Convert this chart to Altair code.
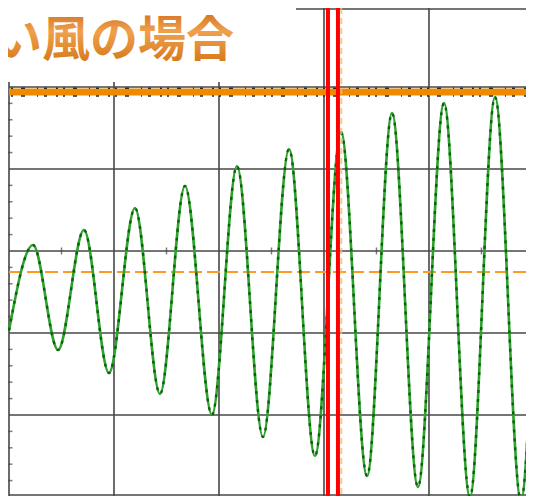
import altair as alt
import pandas as pd

# ---- values (x: divisions from left, y: divisions from centre) ----
trace_x = [0.0, 0.229, 0.467, 0.714, 0.952, 1.200, 1.438, 1.676, 1.933, 2.171, 2.419,
           2.667, 2.914, 3.162, 3.410, 3.648, 3.895, 4.143, 4.390, 4.629, 4.876, 5.0]
trace_y = [-0.97, 0.073, -1.207, 0.256, -1.488, 0.524, -1.744, 0.793, -2.0, 1.037, -2.268,
           1.244, -2.5, 1.451, -2.744, 1.683, -2.878, 1.805, -3.0, 1.878, -3.037, -0.55]

grid_x = [0, 1, 2, 3, 4, 5]
grid_y = [-3, -2, -1, 0, 1, 2, 3]
frame_y = [2.95, -2.975]
minor_y = [-2.8, -2.6, -2.4, -2.2, -1.8, -1.6, -1.4, -1.2, -0.8, -0.6, -0.4, -0.2,
           0.2, 0.4, 0.6, 0.8, 1.2, 1.4, 1.6, 1.8, 2.2, 2.4, 2.6, 2.8]
centre_ticks_x = [0.5, 1.5, 2.5, 3.5, 4.5]

trigger_level = [-0.256]
top_level = [1.939]
speck_levels = [1.985, 1.89]
cursor_x = [3.038, 3.133]
cursor_ghost_x = [3.165]

title_text = ["い風の場合"]

GRID = "#474747"
X = alt.Scale(domain=[0, 4.924], nice=False, zero=False, padding=0)
Y = alt.Scale(domain=[-2.988, 2.963], nice=False, zero=False, padding=0)


def xq():
    return alt.X("x:Q", scale=X, axis=None)


def yq():
    return alt.Y("y:Q", scale=Y, axis=None)


trace = pd.DataFrame({"x": trace_x, "y": trace_y})

vgrid = alt.Chart(pd.DataFrame({"x": grid_x})).mark_rule(color=GRID, strokeWidth=1.6).encode(
    x=xq(), y=alt.value(-10), y2=alt.value(500))
hgrid = alt.Chart(pd.DataFrame({"y": grid_y + frame_y})).mark_rule(color=GRID, strokeWidth=1.6).encode(y=yq())

left_ticks = alt.Chart(pd.DataFrame({"y": minor_y, "x": [0] * len(minor_y)})).mark_tick(
    orient="horizontal", size=7, thickness=1.5, color=GRID).encode(x=xq(), y=yq())
centre_ticks = alt.Chart(pd.DataFrame({"x": centre_ticks_x, "y": [0] * len(centre_ticks_x)})).mark_tick(
    orient="vertical", size=7, thickness=1.5, color=GRID).encode(x=xq(), y=yq())

trigger = alt.Chart(pd.DataFrame({"y": trigger_level})).mark_rule(
    color="#FF9A22", strokeWidth=2, strokeDash=[13, 5]).encode(y=yq())

green = alt.Chart(trace).mark_line(color="#2AA52A", strokeWidth=2.6, interpolate="monotone").encode(
    x=xq(), y=yq())
dark = alt.Chart(trace).mark_line(color="#0E4E0E", strokeWidth=2.4, strokeDash=[3, 6],
                                  interpolate="monotone", opacity=0.85).encode(x=xq(), y=yq())

top = alt.Chart(pd.DataFrame({"y": top_level})).mark_rule(
    color="#EE8A00", strokeWidth=7).encode(y=yq())
specks = alt.Chart(pd.DataFrame({"y": speck_levels})).mark_rule(
    color="#2a2a2a", strokeWidth=1.6, strokeDash=[2, 9, 3, 6, 1, 12, 4, 8, 2, 5]).encode(y=yq())

ghost = alt.Chart(pd.DataFrame({"x": cursor_ghost_x})).mark_rule(
    color="#FFB870", strokeWidth=2, strokeDash=[6, 4], opacity=0.8).encode(
    x=xq(), y=alt.value(-10), y2=alt.value(500))
cursors = alt.Chart(pd.DataFrame({"x": cursor_x})).mark_rule(
    color="#FF0000", strokeWidth=4).encode(x=xq(), y=alt.value(-10), y2=alt.value(500))

tdf = pd.DataFrame({"t": title_text})
white = alt.Chart(tdf).mark_rect(color="white").encode(
    x=alt.value(-9), x2=alt.value(287), y=alt.value(-8), y2=alt.value(74))
title = alt.Chart(tdf).mark_text(font="Noto Sans CJK JP", fontSize=48, fontWeight="bold",
                                 align="right", baseline="middle",
                                 color=alt.Gradient(gradient="linear", x1=0, y1=0, x2=0, y2=1,
                                                    stops=[alt.GradientStop(color="#C0580C", offset=0),
                                                           alt.GradientStop(color="#F0A04C", offset=0.45),
                                                           alt.GradientStop(color="#D0700F", offset=1)])).encode(
    x=alt.value(225), y=alt.value(34), text="t:N")

chart = alt.layer(vgrid, hgrid, left_ticks, centre_ticks, trigger, green, dark, top, specks,
                  ghost, cursors, white, title).properties(
    width=517, height=488,
    padding={"left": 1, "top": 0, "right": 0, "bottom": 0},
    autosize=alt.AutoSizeParams(type="none"),
    background="white",
).configure_view(strokeWidth=0)

chart.save("out.html", embed_options={"renderer": "svg", "actions": False})
